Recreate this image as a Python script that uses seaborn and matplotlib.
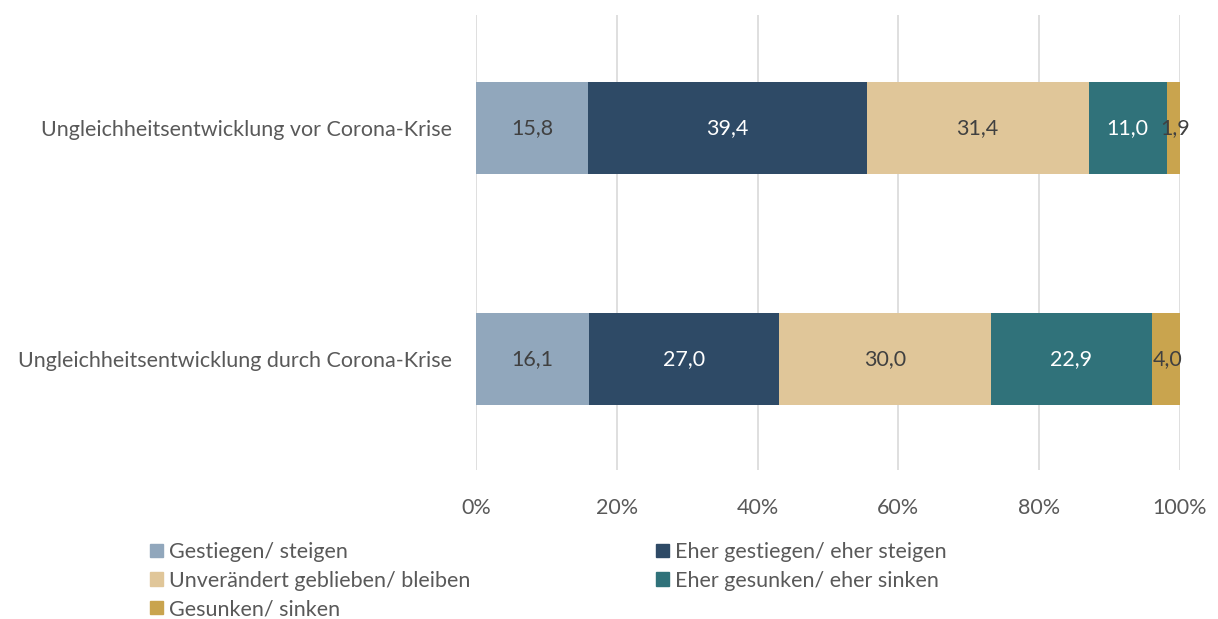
import numpy as np
import pandas as pd
import matplotlib.pyplot as plt
import seaborn as sns
from matplotlib.patches import Patch

# Daten
kategorien = ['Ungleichheitsentwicklung vor Corona-Krise',
              'Ungleichheitsentwicklung durch Corona-Krise']
antworten = ['Gestiegen/ steigen', 'Eher gestiegen/ eher steigen',
             'Unverändert geblieben/ bleiben', 'Eher gesunken/ eher sinken',
             'Gesunken/ sinken']
gestiegen = [15.8, 16.1]
eher_gestiegen = [39.4, 27.0]
unveraendert = [31.4, 30.0]
eher_gesunken = [11.0, 22.9]
gesunken = [1.9, 4.0]

farben = ['#91A7BC', '#2E4A66', '#E0C699', '#30727A', '#C9A44E']
textfarben = ['#404040', 'white', '#404040', 'white', '#404040']

sns.set_theme(style='white')
plt.rcParams['font.family'] = ['Lato', 'DejaVu Sans']
fs = 15.5

werte = np.array([gestiegen, eher_gestiegen, unveraendert, eher_gesunken, gesunken])
anteile = werte / werte.sum(axis=0) * 100  # 100%-gestapelt
kumuliert = np.cumsum(anteile, axis=0)

fig = plt.figure(figsize=(12.18, 6.19), dpi=100)
ax = fig.add_axes([476 / 1218, 1 - 470 / 619, 704 / 1218, 455 / 619])

# gestapelte Balken: kumulierte Summen von hinten nach vorne zeichnen
for i in range(len(antworten) - 1, -1, -1):
    df = pd.DataFrame({'kat': kategorien, 'wert': kumuliert[i]})
    sns.barplot(data=df, x='wert', y='kat', color=farben[i], width=0.4,
                orient='h', ax=ax, saturation=1, linewidth=0)

for j in range(len(kategorien)):
    for i in range(len(antworten)):
        mitte = kumuliert[i, j] - anteile[i, j] / 2
        if i == len(antworten) - 1:
            mitte += 0.3
        ax.text(mitte, j, f'{werte[i, j]:.1f}'.replace('.', ','),
                ha='center', va='center', fontsize=fs, color=textfarben[i])

ax.set_xlim(0, 100)
ax.set_ylim(1.48, -0.49)
ax.set_xticks(np.arange(0, 101, 20))
ax.set_xticklabels([f'{v}%' for v in range(0, 101, 20)], fontsize=fs, color='#595959')
ax.tick_params(axis='x', length=0, pad=20.5)
ax.tick_params(axis='y', length=0, pad=17, labelsize=fs, labelcolor='#595959')
ax.set_xlabel('')
ax.set_ylabel('')
ax.xaxis.grid(True, color='#D9D9D9', linewidth=1.2)
ax.set_axisbelow(True)
for s in ax.spines.values():
    s.set_visible(False)

handles = [Patch(color=farben[i], label=antworten[i]) for i in range(5)]
reihenfolge = [0, 2, 4, 1, 3]
fig.legend([handles[i] for i in reihenfolge], [antworten[i] for i in reihenfolge],
           ncol=2, loc='upper left', bbox_to_anchor=(150 / 1218, 1 - 542 / 619),
           frameon=False, fontsize=fs, labelcolor='#595959',
           handlelength=0.6, handleheight=0.6, handletextpad=0.3,
           columnspacing=8.6, labelspacing=0.4, borderaxespad=0, borderpad=0)

fig.savefig('out.png', dpi=100)
